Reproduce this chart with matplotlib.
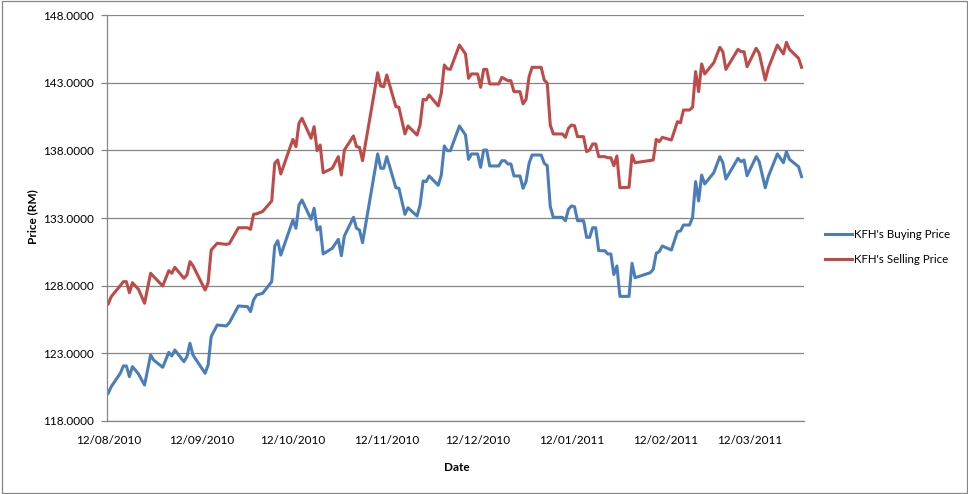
import numpy as np
import pandas as pd
import matplotlib
matplotlib.use("Agg")
import matplotlib.pyplot as plt
import matplotlib.dates as mdates
from matplotlib.patches import Rectangle

plt.rcParams['font.family'] = ['Lato', 'DejaVu Sans']

# day offsets from 12/08/2010 (vertices)
start_date = pd.Timestamp('2010-08-12')
day_offsets = [
    0, 1, 4, 5, 6, 7, 8, 10, 12, 14, 15, 18, 20, 21, 22, 25, 26, 27, 28, 32,
    33, 34, 36, 39, 40, 43, 46, 47, 48, 49, 51, 54, 55, 56, 57, 61, 62, 63, 64, 67,
    68, 69, 70, 71, 74, 76, 77, 78, 81, 82, 83, 84, 89, 90, 91, 92, 95, 96, 98, 99,
    102, 103, 104, 105, 106, 109, 110, 111, 112, 113, 116, 118, 119, 120, 122, 123, 124, 125, 126, 129,
    130, 131, 132, 133, 134, 136, 137, 138, 139, 140, 143, 144, 145, 146, 147, 150, 151, 152, 153, 154,
    155, 157, 158, 159, 160, 161, 162, 164, 165, 166, 167, 168, 169, 172, 173, 174, 179, 180, 181, 182,
    183, 186, 188, 189, 190, 192, 193, 194, 195, 196, 197, 200, 202, 203, 204, 208, 209, 210, 211, 214,
    215, 217, 218, 221, 223, 224, 225, 228, 229,
]

buying_price = [
    120.03, 120.52, 121.51, 122.05, 122.05, 121.26, 122.00, 121.46, 120.64, 122.86,
    122.49, 121.95, 123.06, 122.79, 123.23, 122.37, 122.74, 123.73, 122.86, 121.51,
    122.12, 124.22, 125.08, 125.01, 125.25, 126.49, 126.44, 126.07, 126.93, 127.30,
    127.43, 128.29, 130.93, 131.32, 130.26, 132.85, 132.24, 133.96, 134.33, 132.90,
    133.72, 132.11, 132.36, 130.34, 130.76, 131.42, 130.21, 131.67, 133.05, 132.24,
    132.11, 131.17, 137.74, 136.68, 136.68, 137.54, 135.24, 135.20, 133.27, 133.76,
    133.15, 133.96, 135.74, 135.69, 136.11, 135.42, 136.18, 138.33, 137.98, 137.98,
    139.81, 139.14, 137.34, 137.74, 137.74, 136.75, 138.03, 138.03, 136.85, 136.85,
    137.24, 137.24, 137.00, 137.00, 136.11, 136.11, 135.20, 135.69, 137.05, 137.66,
    137.66, 137.05, 136.87, 133.84, 133.05, 133.05, 132.80, 133.64, 133.89, 133.84,
    132.80, 132.80, 131.57, 131.57, 132.28, 132.28, 130.58, 130.58, 130.34, 130.34,
    128.82, 129.45, 127.20, 127.20, 129.65, 128.58, 128.95, 129.20, 130.39, 130.51,
    130.93, 130.63, 131.99, 132.04, 132.48, 132.48, 133.05, 135.69, 134.26, 136.18,
    135.52, 136.35, 137.54, 137.09, 135.89, 137.42, 137.17, 137.29, 136.13, 137.54,
    137.17, 135.24, 136.06, 137.74, 137.09, 137.91, 137.34, 136.80, 136.06,
]

selling_price = [
    126.64, 127.18, 128.00, 128.29, 128.29, 127.47, 128.21, 127.72, 126.69, 128.91,
    128.67, 127.97, 129.10, 128.91, 129.35, 128.54, 128.78, 129.77, 129.47, 127.67,
    128.21, 130.63, 131.13, 131.05, 131.10, 132.28, 132.28, 132.16, 133.27, 133.31,
    133.48, 134.26, 137.05, 137.29, 136.26, 138.82, 138.28, 140.01, 140.38, 138.90,
    139.76, 137.98, 138.40, 136.35, 136.68, 137.54, 136.18, 138.03, 139.07, 138.28,
    138.23, 137.24, 143.75, 142.77, 142.72, 143.58, 141.24, 141.19, 139.22, 139.81,
    139.14, 139.88, 141.78, 141.73, 142.10, 141.29, 142.23, 144.32, 144.04, 144.00,
    145.80, 145.14, 143.34, 143.66, 143.66, 142.67, 144.00, 144.00, 142.92, 142.92,
    143.41, 143.29, 143.16, 143.16, 142.35, 142.35, 141.44, 141.78, 143.46, 144.15,
    144.15, 143.21, 142.97, 139.88, 139.22, 139.22, 138.97, 139.64, 139.88, 139.83,
    139.02, 139.02, 137.91, 138.03, 138.48, 138.48, 137.54, 137.54, 137.46, 137.46,
    136.87, 137.59, 135.24, 135.27, 137.66, 137.09, 137.26, 137.29, 138.82, 138.65,
    138.97, 138.77, 140.13, 140.05, 140.99, 140.99, 141.19, 143.83, 142.35, 144.40,
    143.66, 144.49, 145.63, 145.31, 144.00, 145.48, 145.31, 145.31, 144.20, 145.56,
    145.19, 143.21, 144.08, 145.80, 145.14, 146.00, 145.48, 144.82, 144.15,
]

series_names = ["KFH's Buying Price", "KFH's Selling Price"]
y_ticks = [118, 123, 128, 133, 138, 143, 148]
x_tick_dates = ['2010-08-12', '2010-09-12', '2010-10-12', '2010-11-12',
                '2010-12-12', '2011-01-12', '2011-02-12', '2011-03-12']

dates = start_date + pd.to_timedelta(day_offsets, unit='D')

grid_col = '#868686'
W, H = 968, 494
fig = plt.figure(figsize=(W / 100, H / 100), dpi=100)

# chart border
fig.patches.append(Rectangle((1.5 / W, 1.5 / H), (W - 3) / W, (H - 3) / H,
                             transform=fig.transFigure, fill=False,
                             edgecolor=grid_col, linewidth=0.9))

ax = fig.add_axes([106.7 / W, 1 - 420.7 / H, (804 - 106.7) / W, (420.7 - 15.3) / H])

ax.plot(dates, buying_price, color='#4A7EBB', lw=2.2, label=series_names[0],
        solid_joinstyle='round')
ax.plot(dates, selling_price, color='#BE4B48', lw=2.2, label=series_names[1],
        solid_joinstyle='round')

ax.set_ylim(118, 148)
ax.set_yticks(y_ticks)
ax.yaxis.set_major_formatter(matplotlib.ticker.FormatStrFormatter('%.4f'))
ax.set_xlim(start_date - pd.Timedelta(days=0.5), start_date + pd.Timedelta(days=229.8))
ax.set_xticks(pd.to_datetime(x_tick_dates))
ax.xaxis.set_major_formatter(mdates.DateFormatter('%d/%m/%Y'))

ax.grid(axis='y', color=grid_col, lw=0.9)
ax.set_axisbelow(True)
for s in ['top', 'right']:
    ax.spines[s].set_visible(False)
for s in ['left', 'bottom']:
    ax.spines[s].set_color(grid_col)
    ax.spines[s].set_linewidth(0.9)

ax.tick_params(axis='y', length=4, width=0.9, color=grid_col, pad=5, labelsize=8.5)
ax.tick_params(axis='x', length=0, pad=10, labelsize=8.5)

fig.text(33 / W, 1 - 217 / H, 'Price (RM)', rotation=90, ha='center', va='center',
         fontsize=8.5, fontweight='bold')
fig.text(457 / W, 1 - 467 / H, 'Date', ha='center', va='center',
         fontsize=8.5, fontweight='bold')

fig.legend(loc='center left', bbox_to_anchor=(815 / W, 1 - 247 / H), frameon=False,
           fontsize=8.3, handlelength=2.3, handletextpad=0.15, labelspacing=1.2)

fig.savefig('out.png', dpi=100)
